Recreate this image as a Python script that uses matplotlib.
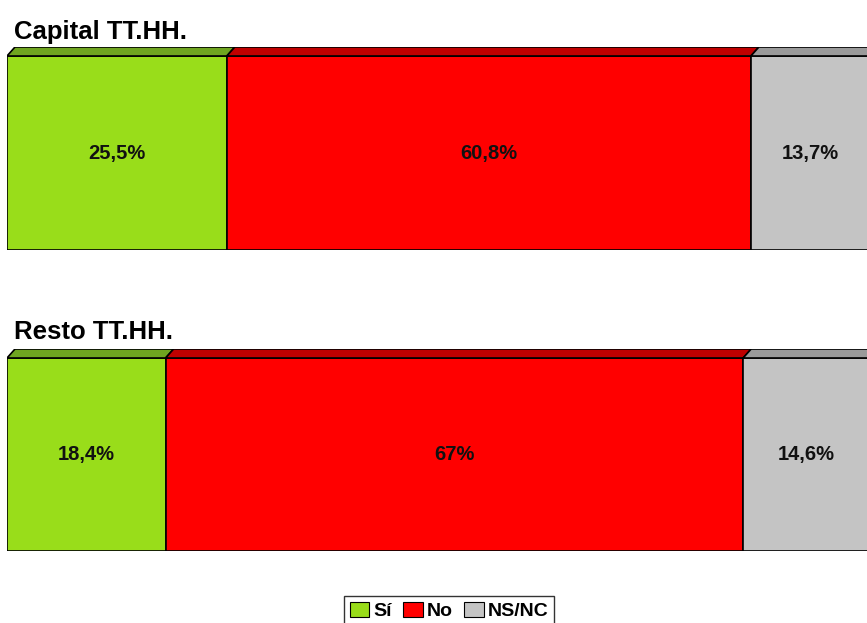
import matplotlib.pyplot as plt
from matplotlib.patches import Polygon, Patch

plt.rcParams['font.family'] = ['Liberation Sans', 'DejaVu Sans']

# Datos
grupos = ['Capital TT.HH.', 'Resto TT.HH.']
categorias = ['Sí', 'No', 'NS/NC']
valores = [[25.5, 60.8, 13.7],
           [18.4, 67.0, 14.6]]
etiquetas = [['25,5%', '60,8%', '13,7%'],
             ['18,4%', '67%', '14,6%']]

frente = ['#99DD1A', '#FF0000', '#C4C4C4']
techo = ['#6FA520', '#C00000', '#9A9A9A']

W, H = 867, 623
fig = plt.figure(figsize=(W / 100, H / 100), dpi=100)

# (top of top face, bottom of front face) in pixels, title y
paneles = [(47, 250, 32), (349, 551, 332)]
dx_px, dy_px = 8, 9
ancho = 862

for i, (ytop, ybot, ytit) in enumerate(paneles):
    ax = fig.add_axes([7 / W, 1 - ybot / H, ancho / W, (ybot - ytop) / H])
    front_h = ybot - ytop - dy_px
    d = dy_px / front_h
    dx = dx_px * 100 / ancho
    ax.set_xlim(0, 100)
    ax.set_ylim(-0.5, 0.5 + d)
    ax.axis('off')

    left = 0
    for j, v in enumerate(valores[i]):
        ax.barh(0, v, left=left, height=1, color=frente[j],
                edgecolor='black', linewidth=1.2)
        pts = [(left, 0.5), (left + dx, 0.5 + d),
               (left + v + dx, 0.5 + d), (left + v, 0.5)]
        ax.add_patch(Polygon(pts, closed=True, facecolor=techo[j],
                             edgecolor='black', linewidth=1.2))
        ax.text(left + v / 2, 0, etiquetas[i][j], ha='center', va='center',
                fontsize=14.5, fontweight='bold', color='#111111')
        left += v

    fig.text(14 / W, 1 - ytit / H, grupos[i], ha='left', va='center',
             fontsize=18.5, fontweight='bold')

handles = [Patch(facecolor=frente[j], edgecolor='black', linewidth=0.8)
           for j in range(3)]
leg = fig.legend(handles, categorias, loc='upper center',
                 bbox_to_anchor=(449 / W, 1 - 596 / H), ncol=3,
                 prop={'weight': 'bold', 'size': 14}, frameon=True,
                 fancybox=False, edgecolor='black', handlelength=1.0,
                 handleheight=0.8, handletextpad=0.2, columnspacing=0.6,
                 borderpad=0.3, borderaxespad=0)
leg.get_frame().set_linewidth(1)

fig.savefig('out.png', dpi=100)
